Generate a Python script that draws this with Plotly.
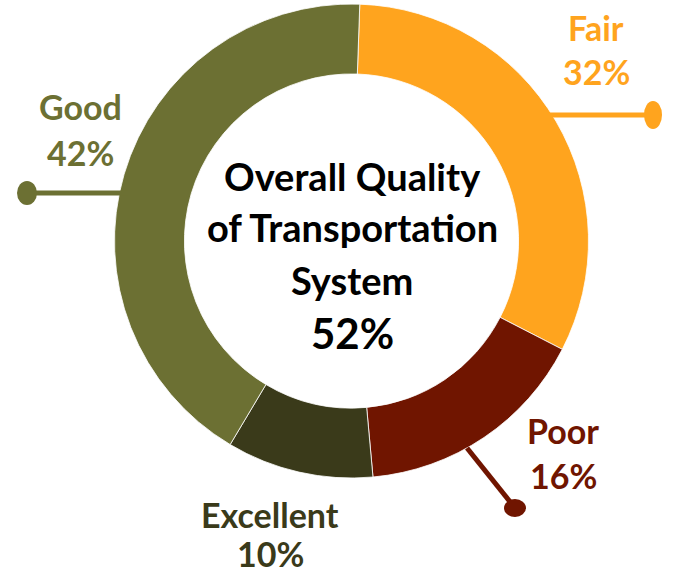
import plotly.graph_objects as go

# slice data (clockwise from 12 o'clock)
labels = ["Fair", "Poor", "Excellent", "Good"]
values = [32, 16, 10, 42]
colors = ["#FFA41E", "#701500", "#3A3A1A", "#6C7033"]

center_lines = ["Overall Quality", "of Transportation", "System"]
center_value = "52%"

W, H = 673, 575


def px(x):
    return x / W


def py(y):
    return 1 - y / H


fig = go.Figure()

# donut centre (351.5, 241) radius 237 in pixels
fig.add_trace(go.Pie(
    labels=labels, values=values, hole=0.705, sort=False,
    direction="clockwise", rotation=2,
    marker=dict(colors=colors, line=dict(color="white", width=0.8)),
    textinfo="none", hoverinfo="label+percent", showlegend=False,
    domain=dict(x=[px(351.5 - 237), px(351.5 + 237)],
                y=[py(241 + 237), py(241 - 237)]),
))

# label positions (pixel centres of name line / value line)
label_pos = {
    "Fair": (596, 27, 71),
    "Poor": (563, 430, 475),
    "Excellent": (270, 514, 553),
    "Good": (80, 106, 152),
}

annotations = []
for lab, val, col in zip(labels, values, colors):
    x, y1, y2 = label_pos[lab]
    for txt, yy in ((lab, y1), (f"{val}%", y2)):
        annotations.append(dict(
            text=f"<b>{txt}</b>", x=px(x), y=py(yy), xref="paper", yref="paper",
            showarrow=False, xanchor="center", yanchor="middle",
            font=dict(family="Lato", size=34, color=col)))

for txt, yy in zip(center_lines, [176, 227, 280]):
    annotations.append(dict(
        text=f"<b>{txt}</b>", x=px(352), y=py(yy), xref="paper", yref="paper",
        showarrow=False, xanchor="center", yanchor="middle",
        font=dict(family="Lato", size=38, color="black")))
annotations.append(dict(
    text=f"<b>{center_value}</b>", x=px(352), y=py(333), xref="paper", yref="paper",
    showarrow=False, xanchor="center", yanchor="middle",
    font=dict(family="Lato", size=42, color="black")))

# leader lines with round ends
leaders = [
    ((545, 115), (653, 115), 9, 14, colors[0]),
    ((467, 448), (515, 508), 11, 9, colors[1]),
    ((128, 193), (27, 193), 10, 12, colors[3]),
]
shapes = []
for (x0, y0), (x1, y1), rx, ry, col in leaders:
    shapes.append(dict(type="line", xref="paper", yref="paper",
                       x0=px(x0), y0=py(y0), x1=px(x1), y1=py(y1),
                       line=dict(color=col, width=5)))
    shapes.append(dict(type="circle", xref="paper", yref="paper",
                       x0=px(x1 - rx), x1=px(x1 + rx), y0=py(y1 + ry), y1=py(y1 - ry),
                       fillcolor=col, line=dict(width=0)))

fig.update_layout(
    width=W, height=H, margin=dict(l=0, r=0, t=0, b=0),
    paper_bgcolor="white", plot_bgcolor="white",
    annotations=annotations, shapes=shapes,
)

fig.write_html("out.html", config={"displayModeBar": False},
               post_script="document.body.style.margin='0';")
